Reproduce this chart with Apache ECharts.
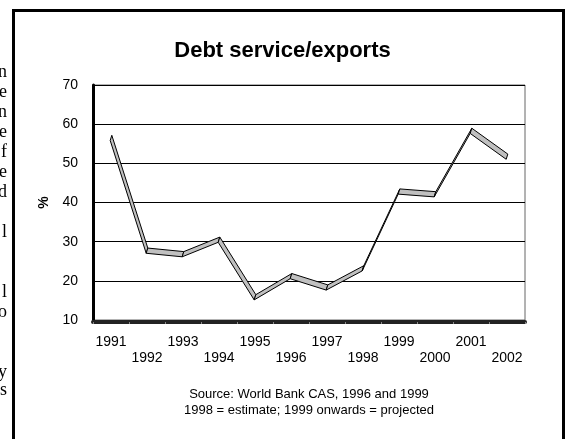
<!DOCTYPE html>
<html>
<head>
<meta charset="utf-8">
<script src="https://cdn.jsdelivr.net/npm/echarts@6/dist/echarts.min.js"></script>
<style>html,body{margin:0;padding:0;background:#fff;}#c{width:565px;height:439px;}</style>
</head>
<body>
<div id="c"></div>
<script>
const years = ['1991','1992','1993','1994','1995','1996','1997','1998','1999','2000','2001','2002'];
const debtService = [56.5, 27.7, 26.8, 30.5, 15.8, 21.2, 18.3, 23.2, 42.8, 42.1, 58.3, 51.7];
const yTicks = [10, 20, 30, 40, 50, 60, 70];
const titleText = 'Debt service/exports';
const sourceLines = ['Source: World Bank CAS, 1996 and 1999', '1998 = estimate; 1999 onwards = projected'];
const marginLetters = [[72,'n'],[92,'e'],[112,'n'],[132,'e'],[152,'f'],[172,'e'],[192,'d'],[232,'l'],[292,'l'],[312,'o'],[372,'y'],[390,'s']];

const chart = echarts.init(document.getElementById('c'), null, {renderer: 'canvas'});
const FONT = '"Liberation Sans", Arial, sans-serif';

const graphics = [
  {type:'rect', shape:{x:13.5, y:10.5, width:550, height:460}, style:{fill:'none', stroke:'#000', lineWidth:3}, z:10}
];
sourceLines.forEach((t, i) => {
  graphics.push({type:'text', x:309, y:394 + i*16, style:{text:t, fill:'#000', font:'13px ' + FONT, textAlign:'center', textVerticalAlign:'middle'}});
});
marginLetters.forEach(([y, ch]) => {
  graphics.push({type:'text', x:7, y:y, style:{text:ch, fill:'#000', font:'18px "Liberation Serif", "Times New Roman", serif', textAlign:'right', textVerticalAlign:'middle'}});
});

chart.setOption({
  animation: false,
  backgroundColor: '#fff',
  title: {
    text: titleText, left: 'center', top: 35,
    textStyle: {fontFamily: FONT, fontSize: 22, fontWeight: 'bold', color: '#000'}
  },
  grid: {left: 93, right: 40, top: 85, bottom: 119, show: true, borderColor: '#666', borderWidth: 1, backgroundColor: '#fff'},
  xAxis: {
    type: 'category', data: years, boundaryGap: true, offset: 2,
    axisLine: {show: true, lineStyle: {color: '#222', width: 4}},
    axisTick: {show: true, interval: 0, length: 2, lineStyle: {color: '#888', width: 1}},
    axisLabel: {
      interval: 0, margin: 12, color: '#000', fontFamily: FONT, fontSize: 14, lineHeight: 16,
      formatter: (v, i) => (i % 2 ? '\n' + v : v)
    },
    splitLine: {show: false}
  },
  yAxis: {
    type: 'value', min: yTicks[0], max: yTicks[yTicks.length - 1], interval: 10,
    name: '%', nameLocation: 'middle', nameRotate: 90, nameGap: 42,
    nameTextStyle: {fontFamily: FONT, fontSize: 14, fontWeight: 'bold', color: '#000'},
    axisLine: {show: true, lineStyle: {color: '#000', width: 3}},
    axisTick: {show: false},
    axisLabel: {margin: 15, color: '#000', fontFamily: FONT, fontSize: 14},
    splitLine: {show: true, lineStyle: {color: '#000', width: 1}}
  },
  series: [{
    type: 'custom',
    data: debtService.map((v, i) => [i, v]),
    encode: {x: 0, y: 1},
    renderItem: function (params, api) {
      const i = params.dataIndex;
      if (i >= debtService.length - 1) return null;
      const p0 = api.coord([i, debtService[i]]);
      const p1 = api.coord([i + 1, debtService[i + 1]]);
      const dx = 1.6, dy = -5.2;
      const pts = [
        [p0[0] - dx / 2, p0[1] - dy / 2],
        [p1[0] - dx / 2, p1[1] - dy / 2],
        [p1[0] + dx / 2, p1[1] + dy / 2],
        [p0[0] + dx / 2, p0[1] + dy / 2]
      ];
      return {type: 'polygon', shape: {points: pts}, style: {fill: '#c0c0c0', stroke: '#000', lineWidth: 1}};
    },
    z: 5
  }],
  graphic: graphics
});
</script>
</body>
</html>
